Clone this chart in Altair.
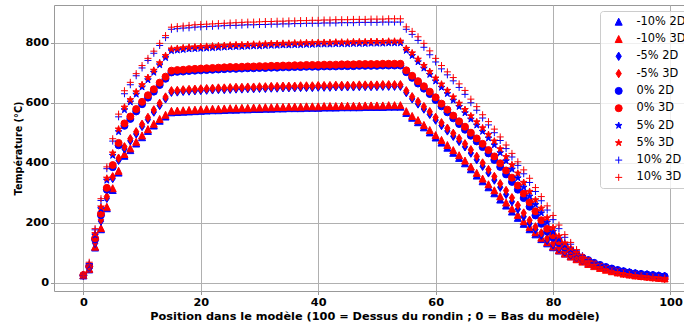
import altair as alt
import pandas as pd

x_pos = list(range(100))
series_names = ["-10% 2D", "-10% 3D", "-5% 2D", "-5% 3D", "0% 2D", "0% 3D",
                "5% 2D", "5% 3D", "10% 2D", "10% 3D"]
x_ticks = [0, 20, 40, 60, 80, 100]
y_ticks = [0, 200, 400, 600, 800]

m10_2d = [24, 44, 117, 178, 248, 309, 367, 423, 442, 464, 485, 506, 524, 540, 554, 568,
          569, 570, 571, 572, 573, 574, 575, 575, 576, 577, 577, 578, 578, 579, 579, 580, 580, 581, 581, 582,
          582, 582, 583, 583, 583, 584, 584, 584, 585, 585, 585, 585, 586, 586, 586, 586, 587, 587, 587,
          566, 550, 535, 518, 501, 484, 467, 450, 433, 416, 398, 378, 357, 338, 318, 298, 277, 257, 237, 216,
          196, 178, 161, 145, 131, 118, 107, 97, 88, 80, 73, 66, 60, 54, 49, 44, 40, 36, 33, 30, 28, 26, 24, 23, 21]
m10_3d = [25, 46, 120, 182, 253, 315, 373, 429, 448, 470, 491, 512, 530, 546, 560, 573,
          574, 575, 576, 577, 578, 579, 580, 580, 581, 582, 582, 583, 583, 584, 584, 585, 585, 586, 586, 587,
          587, 587, 588, 588, 588, 589, 589, 589, 590, 590, 590, 590, 591, 591, 591, 591, 592, 592, 592,
          572, 556, 542, 526, 509, 492, 476, 459, 442, 425, 407, 387, 366, 347, 328, 308, 288, 267, 247, 226,
          205, 186, 168, 150, 135, 121, 108, 97, 87, 78, 70, 62, 55, 49, 43, 38, 34, 30, 27, 24, 22, 20, 18, 16, 14]
m5_2d = [24, 48, 131, 205, 281, 347, 408, 446, 473, 496, 521, 544, 569, 591, 613, 635,
         636, 638, 639, 640, 641, 642, 643, 644, 644, 645, 646, 646, 647, 647, 648, 648, 649, 649, 650, 650,
         650, 651, 651, 651, 652, 652, 652, 653, 653, 653, 653, 654, 654, 654, 654, 655, 655, 655, 655,
         634, 613, 596, 579, 561, 542, 524, 506, 488, 471, 453, 432, 410, 388, 366, 342, 318, 294, 270, 245,
         220, 197, 177, 158, 141, 126, 113, 102, 92, 83, 75, 67, 60, 54, 49, 44, 40, 36, 33, 30, 28, 26, 24, 22, 21]
m5_3d = [25, 50, 135, 210, 287, 353, 415, 453, 480, 503, 528, 551, 576, 598, 619, 640,
         641, 643, 644, 645, 646, 647, 648, 649, 649, 650, 651, 651, 652, 652, 653, 653, 654, 654, 655, 655,
         655, 656, 656, 656, 657, 657, 657, 658, 658, 658, 658, 659, 659, 659, 659, 660, 660, 660, 660,
         640, 620, 604, 587, 570, 551, 533, 515, 498, 481, 463, 443, 421, 399, 377, 354, 330, 307, 283, 258,
         232, 208, 186, 166, 148, 132, 118, 106, 95, 85, 76, 67, 59, 52, 46, 40, 35, 31, 28, 25, 22, 20, 18, 16, 14]
z_2d = [24, 53, 144, 225, 310, 385, 458, 523, 546, 571, 595, 617, 637, 659, 680, 701,
        703, 704, 706, 707, 708, 709, 710, 711, 712, 713, 713, 714, 715, 715, 716, 716, 717, 717, 718, 718,
        719, 719, 720, 720, 720, 721, 721, 721, 722, 722, 722, 723, 723, 723, 723, 724, 724, 724, 724,
        702, 683, 664, 647, 629, 609, 588, 568, 548, 529, 510, 490, 471, 452, 431, 409, 386, 361, 336, 310,
        282, 253, 224, 196, 170, 150, 132, 117, 105, 94, 84, 75, 66, 59, 52, 47, 42, 38, 34, 31, 29, 27, 25, 23, 21]
z_3d = [25, 55, 148, 230, 316, 392, 466, 531, 554, 579, 603, 625, 645, 667, 687, 707,
        709, 710, 712, 713, 714, 715, 716, 717, 718, 719, 719, 720, 721, 721, 722, 722, 723, 723, 724, 724,
        725, 725, 726, 726, 726, 727, 727, 727, 728, 728, 728, 729, 729, 729, 729, 730, 730, 730, 730,
        708, 690, 672, 655, 637, 618, 597, 577, 557, 538, 520, 500, 481, 463, 442, 421, 398, 374, 350, 324,
        297, 268, 238, 208, 180, 158, 138, 122, 108, 95, 83, 72, 62, 54, 47, 41, 36, 32, 28, 25, 22, 20, 18, 16, 14]
p5_2d = [24, 57, 158, 246, 341, 424, 503, 576, 602, 628, 652, 676, 701, 726, 750, 773,
         775, 777, 779, 780, 781, 782, 783, 784, 785, 786, 787, 787, 788, 789, 789, 790, 791, 791, 792, 792,
         793, 793, 794, 794, 795, 795, 795, 796, 796, 796, 797, 797, 797, 798, 798, 798, 799, 799, 799,
         774, 757, 736, 715, 694, 672, 651, 630, 608, 587, 566, 545, 525, 504, 482, 459, 433, 406, 378, 349,
         318, 288, 260, 232, 201, 170, 145, 125, 110, 96, 84, 73, 64, 56, 50, 45, 40, 36, 33, 30, 28, 26, 24, 22, 21]
p5_3d = [25, 60, 163, 252, 348, 432, 512, 585, 610, 636, 660, 684, 708, 733, 757, 779,
         781, 783, 785, 786, 787, 788, 789, 790, 791, 792, 793, 793, 794, 795, 795, 796, 797, 797, 798, 798,
         799, 799, 800, 800, 801, 801, 801, 802, 802, 802, 803, 803, 803, 804, 804, 804, 805, 805, 805,
         781, 766, 745, 724, 704, 682, 662, 641, 619, 598, 577, 556, 536, 516, 494, 472, 446, 420, 393, 365,
         334, 304, 276, 248, 216, 183, 155, 132, 115, 99, 84, 71, 61, 52, 45, 39, 34, 30, 27, 24, 22, 20, 18, 16, 14]
p10_2d = [24, 64, 176, 274, 380, 472, 553, 630, 660, 690, 716, 741, 765, 791, 817, 845,
          847, 849, 850, 852, 853, 854, 855, 856, 857, 858, 858, 859, 860, 860, 861, 861, 862, 862, 863, 863,
          864, 864, 865, 865, 865, 866, 866, 866, 867, 867, 867, 868, 868, 868, 868, 869, 869, 869, 869,
          845, 828, 808, 785, 760, 736, 713, 693, 673, 651, 628, 600, 575, 549, 526, 500, 474, 447, 419, 391,
          363, 334, 304, 273, 242, 210, 180, 151, 128, 108, 90, 76, 65, 57, 50, 45, 41, 37, 34, 31, 29, 27, 25, 24, 22]
p10_3d = [25, 68, 180, 280, 386, 480, 562, 640, 668, 697, 724, 748, 772, 798, 824, 852,
          854, 856, 858, 860, 861, 862, 863, 864, 865, 866, 867, 868, 869, 869, 870, 871, 871, 872, 872, 873,
          873, 874, 874, 875, 875, 876, 876, 877, 877, 877, 878, 878, 878, 879, 879, 879, 880, 880, 880,
          853, 838, 820, 798, 773, 748, 724, 703, 684, 663, 641, 612, 587, 560, 537, 512, 486, 459, 431, 403,
          376, 348, 317, 287, 256, 224, 192, 160, 134, 110, 88, 72, 60, 51, 44, 38, 34, 30, 27, 24, 22, 20, 18, 17, 15]

series_values = [m10_2d, m10_3d, m5_2d, m5_3d, z_2d, z_3d, p5_2d, p5_3d, p10_2d, p10_3d]

rows = []
for name, vals in zip(series_names, series_values):
    for xi, yi in zip(x_pos, vals):
        rows.append({"x": xi, "y": yi, "s": name})
df = pd.DataFrame(rows)

BLUE = "#0000ff"
RED = "#ff0000"
colors = [BLUE, RED] * 5
TRI = "M0,-1L-1,1L1,1Z"
DIAM = "M0,-1.2L0.75,0L0,1.2L-0.75,0Z"
STAR = ("M0,-1L0.225,-0.309L0.951,-0.309L0.363,0.118L0.588,0.809L0,0.382"
        "L-0.588,0.809L-0.363,0.118L-0.951,-0.309L-0.225,-0.309Z")
PLUS = "M-1,0L1,0M0,-1L0,1"
shapes = [TRI, TRI, DIAM, DIAM, "circle", "circle", STAR, STAR, PLUS, PLUS]

FONT = "DejaVu Sans"

chart = alt.Chart(df).mark_point(opacity=1, filled=False, strokeWidth=1, size=49).encode(
    x=alt.X("x:Q",
            scale=alt.Scale(domain=[-5, 102.3], nice=False, zero=False),
            axis=alt.Axis(values=x_ticks, title="Position dans le modèle (100 = Dessus du rondin ; 0 = Bas du modèle)",
                          titleX=320.5, titleY=28, titleBaseline="alphabetic", titleAlign="center",
                          labelPadding=2)),
    y=alt.Y("y:Q",
            scale=alt.Scale(domain=[-28, 926], nice=False, zero=False),
            axis=alt.Axis(values=y_ticks, title="Température (°C)",
                          titleX=-36, titleY=143, titleBaseline="middle", titleAlign="center",
                          titleFontSize=9.7, labelPadding=2)),
    fill=alt.Fill("s:N", scale=alt.Scale(domain=series_names, range=colors), title=None),
    stroke=alt.Stroke("s:N", scale=alt.Scale(domain=series_names, range=colors), title=None),
    shape=alt.Shape("s:N", scale=alt.Scale(domain=series_names, range=shapes), title=None),
).properties(
    width=630,
    height=286,
    autosize=alt.AutoSizeParams(type="none"),
    padding={"left": 54, "top": 5, "right": 0, "bottom": 34},
    background="white",
).configure_view(
    stroke="#999999", strokeWidth=1
).configure_axis(
    domain=False,
    grid=True,
    gridColor="#b0b0b0",
    gridWidth=1,
    tickColor="#999999",
    tickSize=3.5,
    labelFont=FONT,
    labelFontSize=11.3,
    labelFontWeight="bold",
    labelColor="black",
    titleFont=FONT,
    titleFontSize=11.3,
    titleFontWeight="bold",
    titleColor="black",
).configure_legend(
    orient="none",
    legendX=546,
    legendY=6,
    padding=5,
    fillColor="rgba(255,255,255,0.8)",
    strokeColor="#cccccc",
    cornerRadius=3,
    symbolSize=49,
    symbolStrokeWidth=1,
    symbolOffset=8,
    labelOffset=12,
    labelFont=FONT,
    labelFontSize=11.4,
    labelColor="black",
    rowPadding=4.3,
)

chart.save("out.html", embed_options={"renderer": "svg", "actions": False})
